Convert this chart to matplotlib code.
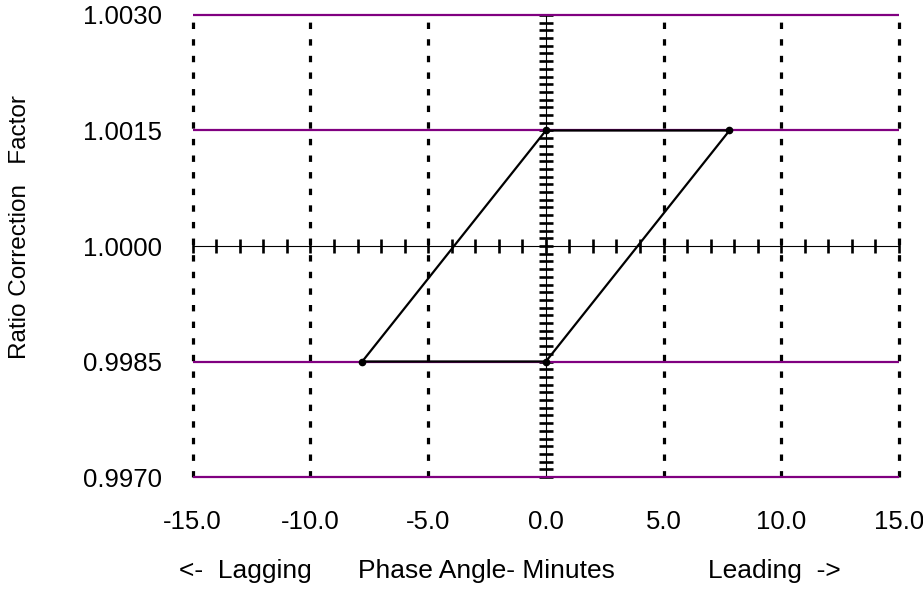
import numpy as np
import matplotlib.pyplot as plt
from matplotlib.ticker import MultipleLocator, NullFormatter

plt.rcParams['font.family'] = ['Liberation Sans', 'DejaVu Sans']

# limit band (ratio correction factor vs phase angle)
band_x = [-7.8, 0.0, 7.8, 0.0, -7.8]
band_y = [0.9985, 1.0015, 1.0015, 0.9985, 0.9985]
corner_x = [-7.8, 0.0, 7.8, 0.0]
corner_y = [0.9985, 1.0015, 1.0015, 0.9985]

limit_levels = [0.9970, 0.9985, 1.0015, 1.0030]
grid_x = [-15, -10, -5, 5, 10, 15]
x_ticks = [-15, -10, -5, 0, 5, 10, 15]
y_ticks = [0.9970, 0.9985, 1.0000, 1.0015, 1.0030]

fig = plt.figure(figsize=(9.23, 5.9), dpi=100)
ax = fig.add_axes([0.2088, 0.1915, 0.7652, 0.7831])
ax.set_xlim(-15, 15)
ax.set_ylim(0.997, 1.003)

for s in ax.spines.values():
    s.set_visible(False)

# dotted vertical grid
ax.vlines(grid_x, 0.997, 1.003, colors='black', linewidth=2.3,
          linestyles=(0, (2, 3.2)), clip_on=False, zorder=1)
# purple limit lines
ax.hlines(limit_levels, -15, 15, colors='#800080', linewidth=1.6,
          clip_on=False, zorder=2)

# band outline
ax.plot(band_x, band_y, color='black', linewidth=1.6, zorder=4, clip_on=False)
ax.plot(corner_x, corner_y, 'o', color='black', markersize=4.5, zorder=5)

ax.set_xticks(x_ticks)
ax.set_xticklabels([f'{v:.1f}' for v in x_ticks])
ax.set_yticks(y_ticks)
ax.set_yticklabels([f'{v:.4f}' for v in y_ticks])
ax.tick_params(axis='x', length=0, pad=24, labelsize=18.5)
ax.tick_params(axis='y', length=0, pad=22, labelsize=18.5)

# crossing axes through the origin with dense ticks
sx = ax.secondary_xaxis(0.5)
sx.spines['bottom'].set_linewidth(2.2)
sx.xaxis.set_major_locator(MultipleLocator(1))
sx.xaxis.set_major_formatter(NullFormatter())
sx.tick_params(direction='inout', length=10.5, width=1.9)

sy = ax.secondary_yaxis(0.5)
sy.spines['left'].set_linewidth(2.2)
sy.yaxis.set_major_locator(MultipleLocator(0.0001))
sy.yaxis.set_major_formatter(NullFormatter())
sy.tick_params(direction='inout', length=10, width=1.9)

fig.text(20 / 923, 1 - 227 / 590, 'Ratio Correction   Factor', rotation=90,
         ha='center', va='center', fontsize=17.5)
fig.text(245 / 923, 1 - 571 / 590, '<-  Lagging', ha='center', va='center', fontsize=19)
fig.text(486 / 923, 1 - 571 / 590, 'Phase Angle- Minutes', ha='center', va='center', fontsize=19)
fig.text(774 / 923, 1 - 571 / 590, 'Leading  ->', ha='center', va='center', fontsize=19)

fig.savefig('out.png', dpi=100)
